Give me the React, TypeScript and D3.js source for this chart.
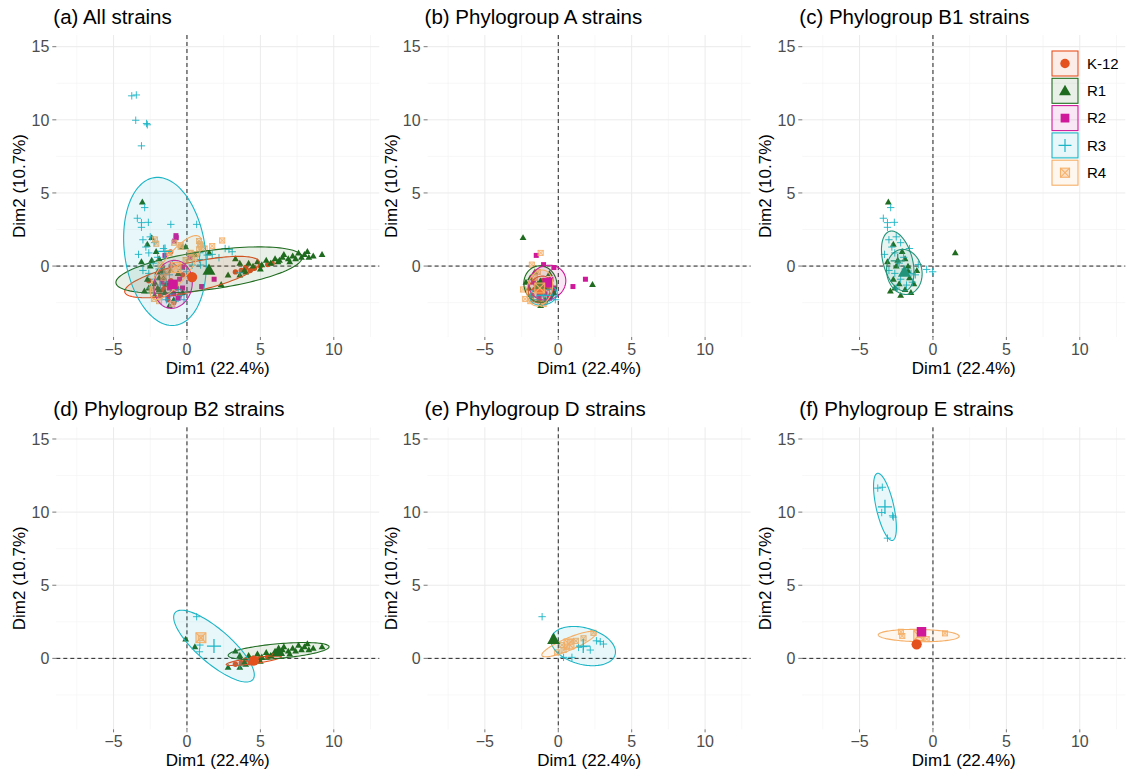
import React from "react";
import * as d3 from "d3";

type Pt = [number, number];
// [group, cx, cy, semi-major, semi-minor, angle in degrees]
type Ell = [string, number, number, number, number, number];

const groups = ["K-12", "R1", "R2", "R3", "R4"];
const groupColors = ["#E5501F", "#1F6B1F", "#D0189B", "#1BB5C6", "#F5AE66"];
const xTicks = [-5, 0, 5, 10];
const yTicks = [0, 5, 10, 15];
const xMinor = [-7.5, -2.5, 2.5, 7.5, 12.5];
const yMinor = [-2.5, 2.5, 7.5, 12.5];
const titles = [
  "(a) All strains",
  "(b) Phylogroup A strains",
  "(c) Phylogroup B1 strains",
  "(d) Phylogroup B2 strains",
  "(e) Phylogroup D strains",
  "(f) Phylogroup E strains",
];

// phylogroup A
const aK12: Pt[] = [[-1.5, -1.3], [-1.0, -1.8], [-0.7, -1.5], [-1.8, -2.0], [-1.3, -2.3], [-0.5, -2.0], [-1.1, -1.0], [-1.6, -1.6], [-0.9, -2.5]];
const aR1: Pt[] = [[-2.4, 1.95], [2.33, -1.25], [-1.2, -2.7], [-1.9, -0.8], [-1.6, -0.4], [-0.6, -0.5], [-0.3, -1.8], [-2.0, -1.5], [-1.4, -1.2], [-0.9, -2.3], [-2.2, -1.1]];
const aR2: Pt[] = [[-1.5, 0.73], [1.0, -1.4], [1.85, -0.9], [-1.0, 0.1], [-0.3, -0.1], [-0.5, -0.9], [-1.2, -1.5], [-0.9, -1.9], [-0.3, -1.5], [-1.7, -1.1], [-0.6, -2.2], [-1.3, -2.0]];
const aR3: Pt[] = [[-1.4, -2.3], [-0.8, -2.4], [-0.4, -2.0], [-1.1, -1.9], [-0.6, -1.6], [-1.7, -2.1], [-0.2, -2.3]];
const aR4: Pt[] = [[-1.2, 0.9], [-1.8, 0.1], [-2.4, -1.6], [-2.25, -2.25], [-1.6, -0.8], [-0.8, -1.2], [-1.9, -2.4], [-1.0, -2.6], [-1.4, -0.4]];

// phylogroup B1
const b1R1: Pt[] = [[-3.04, 4.38], [1.52, 0.91], [-2.7, 1.5], [-2.1, 1.0], [-2.4, 0.4], [-1.7, 0.0], [-2.0, -0.4], [-2.7, -0.9], [-1.6, -0.8], [-2.3, -1.2], [-1.9, -1.6], [-1.3, -1.2], [-2.9, -1.7], [-2.2, -2.0], [-1.5, -1.8], [-1.1, -0.3], [-2.5, 0.0], [-1.9, 0.5], [-3.1, 0.3], [-2.6, -1.5], [-1.7, -0.3]];
const b1R3: Pt[] = [[-2.88, 4.0], [-3.38, 3.27], [-3.1, 2.97], [-2.63, 2.99], [-3.1, 2.65], [-0.43, -0.23], [-0.02, -0.39], [-2.5, 2.0], [-3.0, 1.8], [-2.2, 1.6], [-2.8, 1.3], [-3.3, 0.8], [-2.6, 0.9], [-2.0, 0.6], [-1.6, 1.2], [-2.3, 0.2], [-1.9, -0.2], [-2.6, -0.5], [-1.5, -0.5], [-2.2, -0.9], [-1.8, -1.3], [-1.2, -0.6], [-2.5, -1.5], [-1.4, -1.1], [-3.0, -0.3], [-1.0, 0.1]];

// phylogroup B2
const b2K12: Pt[] = [[3.7, -0.3], [4.0, -0.1], [4.3, -0.3], [4.6, -0.15], [5.0, 0.0], [5.5, 0.1], [5.8, 0.2], [3.3, -0.4]];
const b2R1: Pt[] = [[-0.09, 1.32], [0.54, 0.8], [2.8, -0.6], [3.3, 0.5], [3.6, 0.2], [3.9, -0.3], [4.2, 0.2], [4.5, 0.0], [4.8, 0.3], [5.1, 0.1], [5.4, 0.4], [5.7, 0.2], [6.0, 0.5], [6.2, 0.3], [6.5, 0.6], [6.6, 0.8], [6.9, 0.5], [7.2, 0.7], [7.4, 0.5], [7.6, 0.9], [7.8, 0.6], [8.0, 0.8], [8.2, 1.0], [8.3, 0.6], [8.6, 0.7], [9.2, 0.8], [5.0, -0.2], [4.0, -0.4], [6.3, 0.4], [7.0, 0.3], [3.6, -0.6]];
const b2R3: Pt[] = [[0.66, 2.85], [0.88, 0.91], [0.85, 0.45], [3.6, -0.46]];
const b2R4: Pt[] = [[0.95, 1.41]];

// phylogroup D
const dR1: Pt[] = [[-0.32, 1.32]];
const dR3: Pt[] = [[-1.1, 2.85], [1.38, 0.75], [1.72, 0.8], [2.86, 1.14], [3.08, 0.98], [2.18, 0.57], [0.93, 0.07], [0.36, 0.07], [2.6, 1.2]];
const dR4: Pt[] = [[0.25, 0.91], [0.59, 0.8], [1.72, 1.37], [2.4, 1.75], [0.82, 1.14], [0.36, 0.57], [-0.09, 0.41], [1.2, 1.2]];

// phylogroup E
const eK12: Pt[] = [[-1.11, 0.96]];
const eR2: Pt[] = [[-0.73, 1.94], [-0.84, 1.71]];
const eR3: Pt[] = [[-3.76, 11.64], [-3.45, 11.7], [-3.49, 9.97], [-2.7, 9.66], [-2.75, 9.75], [-3.1, 8.22]];
const eR4: Pt[] = [[-2.18, 1.82], [-2.09, 1.53], [-0.88, 1.6], [-0.43, 1.32], [0.82, 1.71]];

// strains only in the "all" panel
const otherK12: Pt[] = [[-0.3, -0.6], [-2.6, -1.0]];
const otherR2: Pt[] = [[-0.75, 2.08], [0.2, 0.6]];
const otherR4: Pt[] = [[-0.43, 1.44], [0.2, 0.87], [0.88, 1.49]];

const ellAll: Ell[] = [["K-12", 0.35, -0.75, 4.7, 1.0, 12.6], ["R1", 1.5, -0.27, 6.4, 1.32, 8], ["R2", -0.95, -1.25, 1.65, 1.3, 80], ["R3", -1.5, 1.0, 5.1, 2.75, 98], ["R4", -0.75, -0.1, 2.65, 0.9, 53]];
const ellA: Ell[] = [["K-12", -1.2, -1.6, 0.95, 0.8, 60], ["R1", -1.22, -1.23, 1.25, 1.12, 100], ["R2", -0.75, -1.13, 1.3, 1.15, 30], ["R3", -1.0, -2.0, 0.95, 0.65, 15], ["R4", -1.26, -1.5, 1.25, 0.85, 75]];
const ellB1: Ell[] = [["R1", -1.95, -0.4, 1.55, 1.2, 100], ["R3", -2.4, 0.35, 2.1, 1.0, 105]];
const ellB2: Ell[] = [["K-12", 4.55, -0.16, 1.9, 0.2, 8], ["R1", 6.24, 0.5, 3.45, 0.5, 5], ["R3", 1.84, 0.84, 3.5, 1.15, -41]];
const ellD: Ell[] = [["R3", 1.7, 0.84, 2.25, 1.25, -15], ["R4", 0.73, 0.98, 2.0, 0.42, 23]];
const ellE: Ell[] = [["R3", -3.27, 10.36, 2.35, 0.6, 102.6], ["R4", -0.97, 1.56, 2.76, 0.42, -1]];

// single-strain group means: [group, x, y]
const meanB2: [string, number, number][] = [["R4", 0.95, 1.41]];
const meanD: [string, number, number][] = [["R1", -0.32, 1.32]];
const meanE: [string, number, number][] = [["K-12", -1.11, 0.96], ["R2", -0.78, 1.82]];

type Set = [string, Pt[]];
const setA: Set[] = [["K-12", aK12], ["R1", aR1], ["R2", aR2], ["R3", aR3], ["R4", aR4]];
const setB1: Set[] = [["R1", b1R1], ["R3", b1R3]];
const setB2: Set[] = [["K-12", b2K12], ["R1", b2R1], ["R3", b2R3], ["R4", b2R4]];
const setD: Set[] = [["R1", dR1], ["R3", dR3], ["R4", dR4]];
const setE: Set[] = [["K-12", eK12], ["R2", eR2], ["R3", eR3], ["R4", eR4]];
const setOther: Set[] = [["K-12", otherK12], ["R2", otherR2], ["R4", otherR4]];
const setAll: Set[] = groups.map((g) => [
  g,
  [setA, setB1, setB2, setD, setE, setOther].flatMap((s) => s.filter((d) => d[0] === g).flatMap((d) => d[1])),
]);

const plotW = 323;
const plotH = 302;
const colLeft = [56.3, 427.6, 802.3];
const rowTop = [35, 427.3];
const font = "'Liberation Sans', Arial, Helvetica, sans-serif";
const b1Tone = "#23937A";

const colorOf = (g: string) => groupColors[groups.indexOf(g)];

function Marker({ g, cx, cy, k = 1, color }: { g: string; cx: number; cy: number; k?: number; color?: string }) {
  const c = color || colorOf(g);
  const i = groups.indexOf(g);
  if (i === 0) return <circle cx={cx} cy={cy} r={2.7 * k} fill={c} />;
  if (i === 1) {
    const s = 3.4 * k;
    return <path d={`M${cx},${cy - s}L${cx + s},${cy + s * 0.75}L${cx - s},${cy + s * 0.75}Z`} fill={c} />;
  }
  if (i === 2) {
    const s = 2.5 * k;
    return <rect x={cx - s} y={cy - s} width={2 * s} height={2 * s} fill={c} />;
  }
  if (i === 3) {
    const s = 3.7 * k;
    return <path d={`M${cx - s},${cy}H${cx + s}M${cx},${cy - s}V${cy + s}`} stroke={c} strokeWidth={0.9 * Math.sqrt(k)} />;
  }
  const s = 2.6 * k;
  return (
    <g stroke={c} strokeWidth={0.8 * Math.sqrt(k)}>
      <rect x={cx - s} y={cy - s} width={2 * s} height={2 * s} fill={c} fillOpacity={0.35} />
      <path d={`M${cx - s},${cy - s}L${cx + s},${cy + s}M${cx + s},${cy - s}L${cx - s},${cy + s}`} fill="none" />
    </g>
  );
}

function ellipseD(e: Ell, x: d3.ScaleLinear<number, number>, y: d3.ScaleLinear<number, number>) {
  const th = (e[5] * Math.PI) / 180;
  const pts = d3.range(0, 120).map((i) => {
    const t = (i / 120) * 2 * Math.PI;
    const px = e[1] + e[3] * Math.cos(t) * Math.cos(th) - e[4] * Math.sin(t) * Math.sin(th);
    const py = e[2] + e[3] * Math.cos(t) * Math.sin(th) + e[4] * Math.sin(t) * Math.cos(th);
    return [x(px), y(py)] as [number, number];
  });
  return d3.line().curve(d3.curveLinearClosed)(pts) || "";
}

function Panel({ idx, sets, ells, means = [], tone, legend = false }: { idx: number; sets: Set[]; ells: Ell[]; means?: [string, number, number][]; tone?: string; legend?: boolean }) {
  const left = colLeft[idx % 3];
  const top = rowTop[Math.floor(idx / 3)];
  const x = d3.scaleLinear().domain([-8.9, 13.1]).range([0, plotW]);
  const y = d3.scaleLinear().domain([-4.85, 15.8]).range([plotH, 0]);
  return (
    <g transform={`translate(${left},${top})`} fontFamily={font}>
      {xMinor.map((v) => <line key={"xm" + v} x1={x(v)} x2={x(v)} y1={0} y2={plotH} stroke="#F2F2F2" strokeWidth={0.6} />)}
      {yMinor.map((v) => <line key={"ym" + v} x1={0} x2={plotW} y1={y(v)} y2={y(v)} stroke="#F2F2F2" strokeWidth={0.6} />)}
      {xTicks.map((v) => <line key={"xg" + v} x1={x(v)} x2={x(v)} y1={0} y2={plotH} stroke="#EBEBEB" strokeWidth={1} />)}
      {yTicks.map((v) => <line key={"yg" + v} x1={0} x2={plotW} y1={y(v)} y2={y(v)} stroke="#EBEBEB" strokeWidth={1} />)}
      <line x1={x(0)} x2={x(0)} y1={0} y2={plotH} stroke="#222" strokeDasharray="4,3" strokeWidth={1} />
      <line x1={0} x2={plotW} y1={y(0)} y2={y(0)} stroke="#222" strokeDasharray="4,3" strokeWidth={1} />
      {sets.map(([g, pts]) => (
        <g key={g}>
          {pts.map((p, i) => <Marker key={i} g={g} cx={x(p[0])} cy={y(p[1])} />)}
        </g>
      ))}
      {ells.map((e) => {
        const c = tone || colorOf(e[0]);
        return <path key={e[0]} d={ellipseD(e, x, y)} fill={c} fillOpacity={0.1} stroke={c} strokeWidth={1.1} />;
      })}
      {ells.map((e) => <Marker key={"m" + e[0]} g={e[0]} cx={x(e[1])} cy={y(e[2])} k={1.9} color={tone} />)}
      {means.map((m) => <Marker key={"s" + m[0]} g={m[0]} cx={x(m[1])} cy={y(m[2])} k={1.9} />)}
      {yTicks.map((v) => (
        <g key={"yt" + v}>
          <line x1={-4} x2={0} y1={y(v)} y2={y(v)} stroke="#555" strokeWidth={0.8} />
          <text x={-7} y={y(v)} dy="0.36em" textAnchor="end" fontSize={16} fill="#4D4D4D">{v}</text>
        </g>
      ))}
      {xTicks.map((v) => (
        <g key={"xt" + v}>
          <line x1={x(v)} x2={x(v)} y1={plotH} y2={plotH + 3} stroke="#555" strokeWidth={0.8} />
          <text x={x(v)} y={plotH + 18} textAnchor="middle" fontSize={16} fill="#4D4D4D">{v < 0 ? "\u2212" + -v : v}</text>
        </g>
      ))}
      <text x={plotW / 2} y={plotH + 37} textAnchor="middle" fontSize={17} fill="#000">Dim1 (22.4%)</text>
      <text transform={`translate(-37,${plotH / 2}) rotate(-90)`} textAnchor="middle" dy="0.36em" fontSize={17} fill="#000">Dim2 (10.7%)</text>
      <text x={-3} y={-11} fontSize={20.5} fill="#000">{titles[idx]}</text>
      {legend && (
        <g transform={`translate(${1052 - left},${51 - top})`}>
          {groups.map((g, i) => (
            <g key={g} transform={`translate(0,${i * 27.3})`}>
              <rect x={0} y={0} width={26} height={25} fill={groupColors[i]} fillOpacity={0.1} stroke={groupColors[i]} strokeWidth={1.1} />
              <Marker g={g} cx={13} cy={12.5} k={1.75} />
              <text x={35} y={12.5} dy="0.36em" fontSize={15} fill="#000">{g}</text>
            </g>
          ))}
        </g>
      )}
    </g>
  );
}

export default function App() {
  return (
    <svg width={1131} height={773} style={{ position: "absolute", left: 0, top: 0, background: "#fff" }}>
      <rect width={1131} height={773} fill="#fff" />
      <Panel idx={0} sets={setAll} ells={ellAll} />
      <Panel idx={1} sets={setA} ells={ellA} />
      <Panel idx={2} sets={setB1} ells={ellB1} tone={b1Tone} legend />
      <Panel idx={3} sets={setB2} ells={ellB2} means={meanB2} />
      <Panel idx={4} sets={setD} ells={ellD} means={meanD} />
      <Panel idx={5} sets={setE} ells={ellE} means={meanE} />
    </svg>
  );
}
